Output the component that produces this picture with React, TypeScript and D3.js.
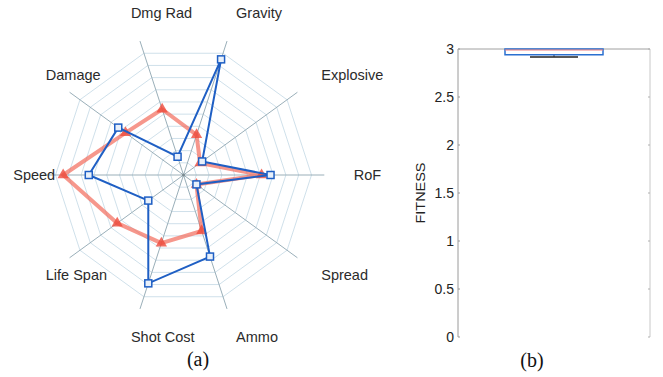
import React, { useEffect, useRef } from 'react';
import * as d3 from 'd3';

// radar axes, counter-clockwise starting at the right
const axes = ['RoF', 'Explosive', 'Gravity', 'Dmg Rad', 'Damage', 'Speed', 'Life Span', 'Shot Cost', 'Ammo', 'Spread'];
const blueValues = [6.8, 1.8, 9.5, 1.5, 6.3, 7.4, 3.4, 8.9, 6.7, 1.25];
const redValues = [6.1, 1.6, 3.3, 5.4, 5.6, 9.4, 6.4, 5.6, 4.6, 1.25];
const rings = [1, 2, 3, 4, 5, 6, 7, 8, 9, 10];

// box plot of fitness
const fitnessTicks = [0, 0.5, 1, 1.5, 2, 2.5, 3];
const fitnessBox = { low: 2.917, q1: 2.94, median: 3.0, q3: 3.0, high: 3.0 };

export default function App() {
  const svgRef = useRef<SVGSVGElement>(null);

  useEffect(() => {
    if (!svgRef.current) return;
    const svg = d3.select(svgRef.current);
    svg.selectAll('*').remove();

    // ---------- (a) radar ----------
    const cx = 183.5, cy = 175;
    const r = d3.scaleLinear().domain([0, 10]).range([0, 128]);
    const angle = d3.scaleLinear().domain([0, axes.length]).range([0, 2 * Math.PI]);
    const pt = (i: number, v: number): [number, number] => {
      const a = angle(i);
      return [cx + r(v) * Math.cos(a), cy - r(v) * Math.sin(a)];
    };

    svg.append('defs').append('clipPath').attr('id', 'radarClip')
      .append('rect').attr('x', 0).attr('y', 0).attr('width', 385).attr('height', 345);

    const radar = svg.append('g').attr('clip-path', 'url(#radarClip)');

    radar.selectAll('polygon.ring')
      .data(rings)
      .join('polygon')
      .attr('class', 'ring')
      .attr('points', d => axes.map((_, i) => pt(i, d).join(',')).join(' '))
      .attr('fill', 'none')
      .attr('stroke', '#c9dde8')
      .attr('stroke-width', 0.9);

    radar.selectAll('line.axis')
      .data(axes)
      .join('line')
      .attr('class', 'axis')
      .attr('x1', cx).attr('y1', cy)
      .attr('x2', (_, i) => pt(i, 11)[0])
      .attr('y2', (_, i) => pt(i, 11)[1])
      .attr('stroke', '#9aafb9')
      .attr('stroke-width', 1);

    radar.append('circle').attr('cx', cx).attr('cy', cy).attr('r', 1.5).attr('fill', '#7a8a90');

    const line = d3.line<number>()
      .x((d, i) => pt(i, d)[0])
      .y((d, i) => pt(i, d)[1])
      .curve(d3.curveLinearClosed);

    radar.append('path')
      .attr('d', line(redValues))
      .attr('fill', 'none')
      .attr('stroke', '#f26b5b')
      .attr('stroke-opacity', 0.7)
      .attr('stroke-width', 4)
      .attr('stroke-linejoin', 'round');

    const tri = d3.symbol().type(d3.symbolTriangle).size(55);
    radar.selectAll('path.tri')
      .data(redValues)
      .join('path')
      .attr('class', 'tri')
      .attr('d', tri)
      .attr('transform', (d, i) => `translate(${pt(i, d)[0]},${pt(i, d)[1]})`)
      .attr('fill', '#ee4b3c')
      .attr('fill-opacity', 0.8);

    radar.append('path')
      .attr('d', line(blueValues))
      .attr('fill', 'none')
      .attr('stroke', '#1f5fc4')
      .attr('stroke-width', 2);

    radar.selectAll('rect.sq')
      .data(blueValues)
      .join('rect')
      .attr('class', 'sq')
      .attr('x', (d, i) => pt(i, d)[0] - 3.5)
      .attr('y', (d, i) => pt(i, d)[1] - 3.5)
      .attr('width', 7).attr('height', 7)
      .attr('fill', '#e8f0fa')
      .attr('stroke', '#1f5fc4')
      .attr('stroke-width', 1.5);

    // labels start at a fixed radius, left aligned
    radar.selectAll('text.lbl')
      .data(axes)
      .join('text')
      .attr('class', 'lbl')
      .attr('x', (_, i) => pt(i, 13.3)[0])
      .attr('y', (_, i) => pt(i, 13.3)[1])
      .attr('dy', '0.36em')
      .attr('font-family', '"Liberation Sans", Arial, sans-serif')
      .attr('font-size', 14.5)
      .attr('fill', '#2b2b2b')
      .text(d => d);

    // ---------- (b) box plot ----------
    const left = 458, right = 650;
    const y = d3.scaleLinear().domain([0, 3]).range([337, 49]);
    const box = svg.append('g');

    box.append('line').attr('x1', left).attr('x2', left).attr('y1', y(0)).attr('y2', y(3)).attr('stroke', '#9a9a9a');
    box.append('line').attr('x1', right).attr('x2', right).attr('y1', y(0)).attr('y2', y(3)).attr('stroke', '#c8c8c8');
    box.append('line').attr('x1', left).attr('x2', right).attr('y1', y(3)).attr('y2', y(3)).attr('stroke', '#a0a0a0');

    box.selectAll('line.tk')
      .data(fitnessTicks)
      .join('line')
      .attr('class', 'tk')
      .attr('x1', left).attr('x2', left + 2)
      .attr('y1', d => y(d)).attr('y2', d => y(d))
      .attr('stroke', '#9a9a9a');
    box.selectAll('line.tkr')
      .data(fitnessTicks)
      .join('line')
      .attr('class', 'tkr')
      .attr('x1', right - 2).attr('x2', right)
      .attr('y1', d => y(d)).attr('y2', d => y(d))
      .attr('stroke', '#b0b0b0');

    box.selectAll('text.tl')
      .data(fitnessTicks)
      .join('text')
      .attr('class', 'tl')
      .attr('x', left - 4)
      .attr('y', d => y(d))
      .attr('dy', '0.36em')
      .attr('text-anchor', 'end')
      .attr('font-family', '"Liberation Sans", Arial, sans-serif')
      .attr('font-size', 14)
      .attr('fill', '#222')
      .text(d => String(d));

    box.append('text')
      .attr('transform', `translate(425,${y(1.5)}) rotate(-90)`)
      .attr('text-anchor', 'middle')
      .attr('font-family', '"Liberation Sans", Arial, sans-serif')
      .attr('font-size', 13)
      .attr('textLength', 61)
      .attr('lengthAdjust', 'spacingAndGlyphs')
      .attr('fill', '#222')
      .text('FITNESS');

    const bx0 = 505, bx1 = 603, bmid = (bx0 + bx1) / 2;
    box.append('line')
      .attr('x1', bmid).attr('x2', bmid)
      .attr('y1', y(fitnessBox.q1)).attr('y2', y(fitnessBox.low))
      .attr('stroke', '#222').attr('stroke-dasharray', '2,2');
    box.append('line')
      .attr('x1', bmid - 24).attr('x2', bmid + 24)
      .attr('y1', y(fitnessBox.low)).attr('y2', y(fitnessBox.low))
      .attr('stroke', '#222').attr('stroke-width', 1.5);
    box.append('rect')
      .attr('x', bx0).attr('y', y(fitnessBox.q3))
      .attr('width', bx1 - bx0).attr('height', y(fitnessBox.q1) - y(fitnessBox.q3))
      .attr('fill', 'none').attr('stroke', '#2a6fd0').attr('stroke-width', 1.5);
    box.append('line')
      .attr('x1', bx0).attr('x2', bx1)
      .attr('y1', y(fitnessBox.median) + 1).attr('y2', y(fitnessBox.median) + 1)
      .attr('stroke', '#f08080').attr('stroke-width', 1);

    // captions
    svg.append('text').attr('x', 198).attr('y', 366).attr('text-anchor', 'middle')
      .attr('font-family', '"Liberation Serif", "Times New Roman", serif').attr('font-size', 20)
      .attr('fill', '#111').text('(a)');
    svg.append('text').attr('x', 532).attr('y', 367).attr('text-anchor', 'middle')
      .attr('font-family', '"Liberation Serif", "Times New Roman", serif').attr('font-size', 20)
      .attr('fill', '#111').text('(b)');
  }, []);

  return (
    <svg ref={svgRef} width={663} height={377}
      style={{ position: 'absolute', left: 0, top: 0, background: '#fff' }} />
  );
}
